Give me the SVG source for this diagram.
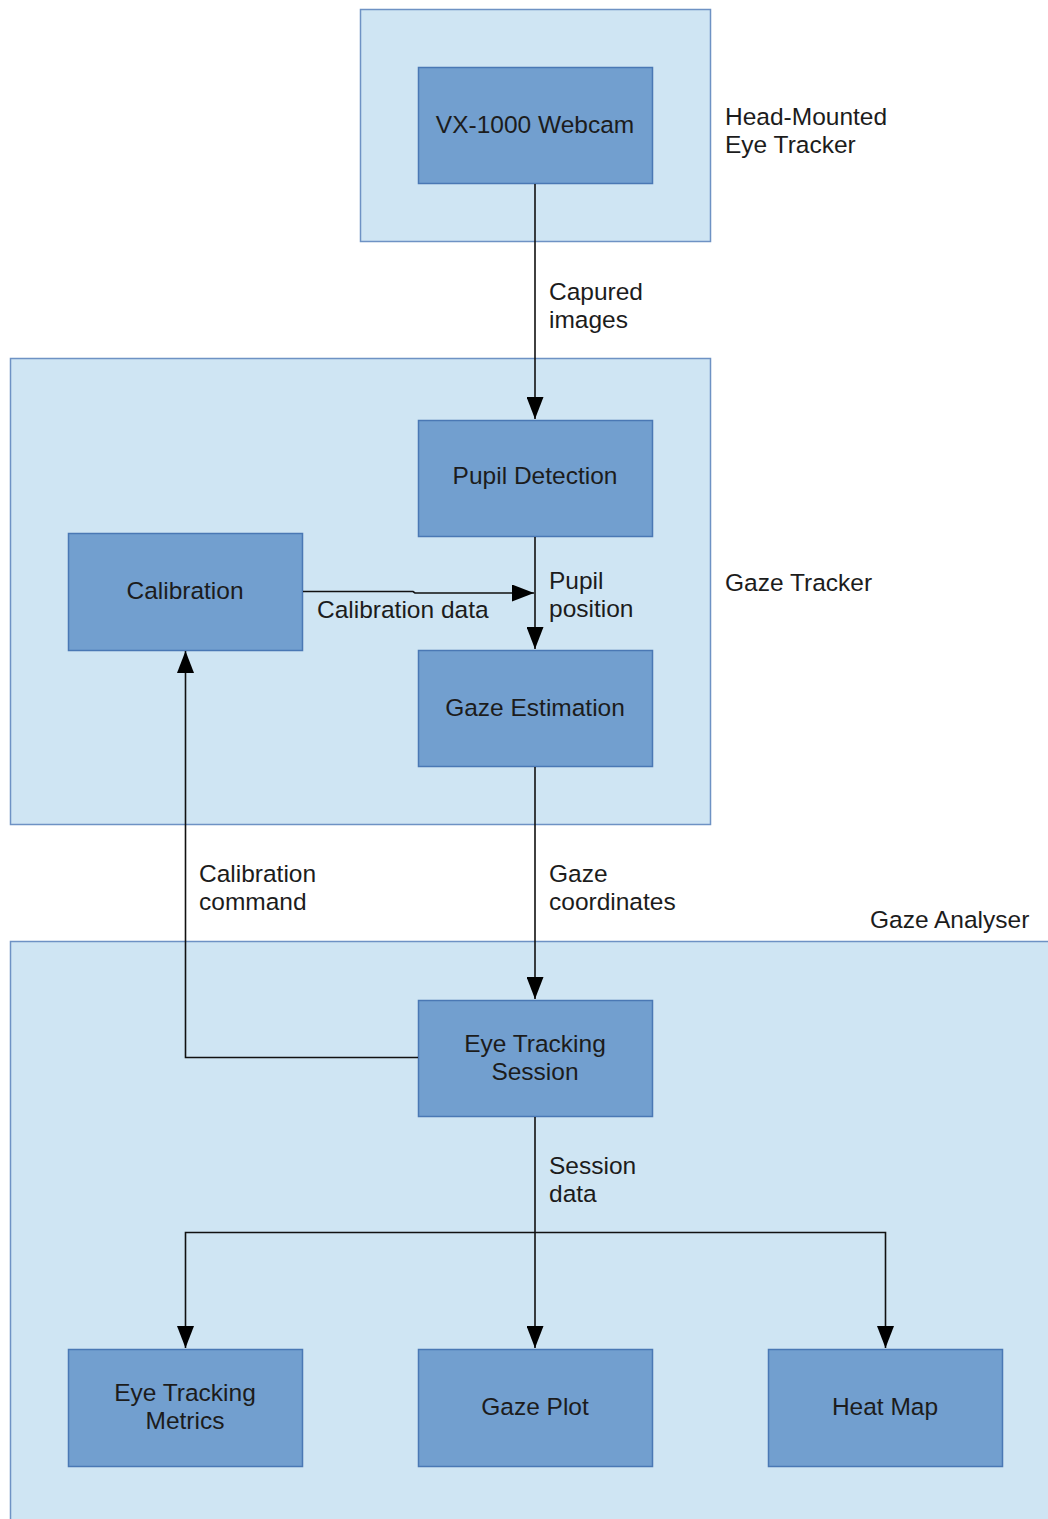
<svg xmlns="http://www.w3.org/2000/svg" width="1048" height="1519" viewBox="0 0 1048 1519">
<style>
.cont{fill:#cfe5f3;stroke:#6e92c4;stroke-width:1.5}
.node{fill:#729fcf;stroke:#4a78b4;stroke-width:1.5}
text{font-family:"Liberation Sans",Arial,sans-serif;font-size:24.5px;fill:#1c1c1c}
.c{text-anchor:middle}
.e{fill:none;stroke:#111;stroke-width:1.6}
</style>
<defs>
<marker id="ah" markerWidth="22" markerHeight="17" refX="22" refY="8.5" orient="auto" markerUnits="userSpaceOnUse">
<path d="M0,0 L22,8.5 L0,17 Z" fill="#000"/>
</marker>
</defs>
<rect width="1048" height="1519" fill="#fff"/>
<g id="head-mounted">
<rect class="cont" x="360.5" y="9.5" width="350" height="232"/>
<text x="725" y="125">Head-Mounted</text>
<text x="725" y="153">Eye Tracker</text>
</g>
<g id="gaze-tracker">
<rect class="cont" x="10.5" y="358.5" width="700" height="466"/>
<text x="725" y="591">Gaze Tracker</text>
</g>
<g id="gaze-analyser">
<rect class="cont" x="10.5" y="941.5" width="1040" height="590"/>
<text x="870" y="928">Gaze Analyser</text>
</g>
<g id="webcam"><rect class="node" x="418.5" y="67.5" width="234" height="116"/><text class="c" x="535" y="133">VX-1000 Webcam</text></g>
<g id="pupil-detection"><rect class="node" x="418.5" y="420.5" width="234" height="116"/><text class="c" x="535" y="484">Pupil Detection</text></g>
<g id="calibration"><rect class="node" x="68.5" y="533.5" width="234" height="117"/><text class="c" x="185" y="599">Calibration</text></g>
<g id="gaze-estimation"><rect class="node" x="418.5" y="650.5" width="234" height="116"/><text class="c" x="535" y="716">Gaze Estimation</text></g>
<g id="session"><rect class="node" x="418.5" y="1000.5" width="234" height="116"/><text class="c" x="535" y="1052">Eye Tracking</text><text class="c" x="535" y="1080">Session</text></g>
<g id="metrics"><rect class="node" x="68.5" y="1349.5" width="234" height="117"/><text class="c" x="185" y="1401">Eye Tracking</text><text class="c" x="185" y="1429">Metrics</text></g>
<g id="gaze-plot"><rect class="node" x="418.5" y="1349.5" width="234" height="117"/><text class="c" x="535" y="1415">Gaze Plot</text></g>
<g id="heat-map"><rect class="node" x="768.5" y="1349.5" width="234" height="117"/><text class="c" x="885" y="1415">Heat Map</text></g>
<g id="connectors">
<path class="e" d="M535,184 V419" marker-end="url(#ah)"/>
<text x="549" y="300">Capured</text><text x="549" y="328">images</text>
<path class="e" d="M535,537 V649" marker-end="url(#ah)"/>
<text x="549" y="589">Pupil</text><text x="549" y="617">position</text>
<path class="e" d="M303,591.5 H413 L415,593 H534" marker-end="url(#ah)"/>
<text x="317" y="618">Calibration data</text>
<path class="e" d="M418,1057.5 H185.5 V651" marker-end="url(#ah)"/>
<text x="199" y="882">Calibration</text><text x="199" y="910">command</text>
<path class="e" d="M535,767 V999" marker-end="url(#ah)"/>
<text x="549" y="882">Gaze</text><text x="549" y="910">coordinates</text>
<path class="e" d="M535,1117 V1348" marker-end="url(#ah)"/>
<path class="e" d="M535,1232.5 H185.5 V1348" marker-end="url(#ah)"/>
<path class="e" d="M535,1232.5 H885.5 V1348" marker-end="url(#ah)"/>
<text x="549" y="1174">Session</text><text x="549" y="1202">data</text>
</g>
</svg>
